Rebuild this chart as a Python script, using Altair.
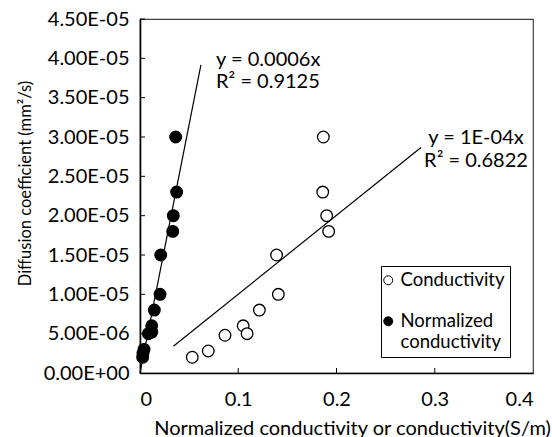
import altair as alt
import pandas as pd

# Normalized conductivity series (filled markers)
norm_x = [0.0363, 0.0373, 0.0339, 0.0333, 0.0211, 0.0204, 0.0146, 0.0119,
          0.0085, 0.0120, 0.0041, 0.0027, 0.0030]
norm_y = [3.0e-5, 2.3e-5, 2.0e-5, 1.8e-5, 1.5e-5, 1.0e-5, 8.0e-6, 6.0e-6,
          5.0e-6, 5.2e-6, 3.0e-6, 2.0e-6, 2.5e-6]

# Conductivity series (open markers)
cond_x = [0.0532, 0.0695, 0.0865, 0.105, 0.109, 0.1215, 0.1408, 0.139,
          0.1866, 0.186, 0.190, 0.192]
cond_y = [2.0e-6, 2.8e-6, 4.8e-6, 6.0e-6, 5.0e-6, 8.0e-6, 1.0e-5, 1.5e-5,
          3.0e-5, 2.3e-5, 2.0e-5, 1.8e-5]

series_names = ["Conductivity", "Normalized conductivity"]

# Trendline x-extent for each series (fit forced through the origin)
norm_trend_x = [0.0, 0.062]
cond_trend_x = [0.034, 0.286]

# Equation annotations
eq_text = ["y = 0.0006x", "R² = 0.9125", "y = 1E-04x", "R² = 0.6822"]
eq_x = [0.0774, 0.0774, 0.342, 0.342]
eq_y = [3.98e-5, 3.70e-5, 2.99e-5, 2.69e-5]
eq_align = ["left", "left", "center", "center"]

# Axis ticks and labels
x_ticks = [0.0, 0.1, 0.2, 0.3, 0.4]
y_ticks = [i * 5e-6 for i in range(10)]
y_labels = ["0.00E+00", "5.00E-06", "1.00E-05", "1.50E-05", "2.00E-05",
            "2.50E-05", "3.00E-05", "3.50E-05", "4.00E-05", "4.50E-05"]


def origin_slope(xs, ys):
    return sum(a * b for a, b in zip(xs, ys)) / sum(a * a for a in xs)


points = pd.DataFrame({
    "x": cond_x + norm_x,
    "y": cond_y + norm_y,
    "series": [series_names[0]] * len(cond_x) + [series_names[1]] * len(norm_x),
})

k_norm = origin_slope(norm_x, norm_y)
k_cond = origin_slope(cond_x, cond_y)
trend = pd.DataFrame({
    "x": norm_trend_x + cond_trend_x,
    "y": [k_norm * v for v in norm_trend_x] + [k_cond * v for v in cond_trend_x],
    "series": [series_names[1]] * 2 + [series_names[0]] * 2,
})

ann = pd.DataFrame({"x": eq_x, "y": eq_y, "text": eq_text, "align": eq_align})
x_tick_df = pd.DataFrame({"x": x_ticks[1:-1]})
y_tick_df = pd.DataFrame({"y": y_ticks[1:]})

FONT = "Lato"
FS = 20
W, H = 393, 354

xscale = alt.Scale(domain=[0, 0.4], nice=False, zero=True)
yscale = alt.Scale(domain=[0, 4.5e-5], nice=False)

label_expr = "[" + ",".join("'%s'" % s for s in y_labels) + "][round(datum.value / 5e-6)]"

xaxis = alt.Axis(values=x_ticks, format="~g", ticks=False, grid=False,
                 labelPadding=16, title="Normalized conductivity or conductivity(S/m)",
                 titlePadding=9, titleFontSize=20, titleX=212,
                 domainColor="black", domainWidth=1.6)
yaxis = alt.Axis(values=y_ticks, labelExpr=label_expr, ticks=False, grid=False,
                 labelPadding=11, title="Diffusion coefficient (mm²/s)",
                 titlePadding=10, titleFontSize=16.5, titleY=164,
                 domainColor="black", domainWidth=1.6)

X = alt.X("x:Q", scale=xscale, axis=xaxis)
Y = alt.Y("y:Q", scale=yscale, axis=yaxis)

trend_lines = alt.Chart(trend).mark_line(color="black", strokeWidth=1.2).encode(
    x=X, y=Y, detail="series:N",
)

scatter = alt.Chart(points).mark_point(
    shape="circle", filled=True, stroke="black", strokeWidth=1.3, size=135, opacity=1
).encode(
    x=X,
    y=Y,
    fill=alt.Fill(
        "series:N",
        scale=alt.Scale(domain=series_names, range=["white", "black"]),
        legend=alt.Legend(
            title=None, orient="none", legendX=241, legendY=247,
            strokeColor="black", fillColor="white", padding=5,
            symbolSize=80, symbolStrokeColor="black", symbolStrokeWidth=1,
            symbolOffset=-7,
            labelFont=FONT, labelFontSize=18.5, labelColor="black",
            labelOffset=3, rowPadding=22, symbolType="circle",
            labelExpr="datum.label == 'Normalized conductivity' ? ['Normalized', 'conductivity'] : datum.label",
            labelLimit=250,
        ),
    ),
)

# Inward-pointing tick marks along the bottom and left edges
x_tick_marks = alt.Chart(x_tick_df).mark_rule(color="black", strokeWidth=1).encode(
    x=X, y=alt.value(H), y2=alt.value(H - 5),
)
y_tick_marks = alt.Chart(y_tick_df).mark_rule(color="black", strokeWidth=1).encode(
    y=Y, x=alt.value(0), x2=alt.value(5),
)

labels_left = alt.Chart(ann[ann["align"] == "left"]).mark_text(
    align="left", baseline="middle", font=FONT, fontSize=FS, color="black"
).encode(x=X, y=Y, text="text:N")
labels_center = alt.Chart(ann[ann["align"] == "center"]).mark_text(
    align="center", baseline="middle", font=FONT, fontSize=FS, color="black"
).encode(x=X, y=Y, text="text:N")

chart = alt.layer(
    trend_lines, scatter, x_tick_marks, y_tick_marks, labels_left, labels_center
).properties(
    width=W, height=H,
    autosize=alt.AutoSizeParams(type="none"),
    padding={"left": 140, "top": 19, "right": 19, "bottom": 64},
).configure_view(
    stroke="#404040", strokeWidth=1.2
).configure_axis(
    labelFont=FONT, labelFontSize=FS, labelColor="black",
    titleFont=FONT, titleColor="black", titleFontWeight="normal",
)

chart.save("out.html", embed_options={"renderer": "svg", "actions": False})
